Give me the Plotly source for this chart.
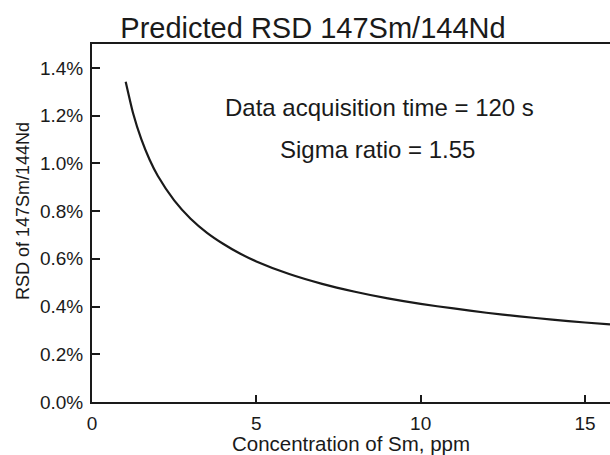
import plotly.graph_objects as go

# Data (Sm concentration in ppm, RSD as fraction)
conc_ppm = [1.025, 1.25, 1.5, 1.75, 2.0, 2.5, 3.0, 3.5, 4.0, 4.5, 5.0, 6.0, 7.0,
            8.0, 9.0, 10.0, 11.0, 12.0, 13.0, 14.0, 15.0, 15.76]
rsd_pct = [1.342, 1.210, 1.101, 1.016, 0.948, 0.845, 0.768, 0.709, 0.662, 0.622,
           0.589, 0.536, 0.495, 0.462, 0.434, 0.411, 0.392, 0.374, 0.359, 0.345,
           0.333, 0.325]
rsd = [v / 100 for v in rsd_pct]

x_ticks = [0, 5, 10, 15]
y_ticks = [0.0, 0.002, 0.004, 0.006, 0.008, 0.010, 0.012, 0.014]

title_text = "Predicted RSD 147Sm/144Nd"
x_title = "Concentration of Sm, ppm"
y_title = "RSD of 147Sm/144Nd"
note_lines = ["Data acquisition time = 120 s", "Sigma ratio = 1.55"]

FONT = "Liberation Sans, Arial, Helvetica, sans-serif"
INK = "#1a1a1a"

fig = go.Figure()
fig.add_trace(go.Scatter(
    x=conc_ppm, y=rsd, mode="lines",
    line=dict(color=INK, width=2.2, shape="spline", smoothing=0.6),
    hoverinfo="skip", showlegend=False,
))

fig.update_layout(
    width=610, height=455,
    margin=dict(l=92, r=0, t=44, b=53, autoexpand=False),
    paper_bgcolor="white", plot_bgcolor="white",
    font=dict(family=FONT, color=INK),
    title=dict(text=title_text, x=313 / 610, xanchor="center",
               y=1 - 28 / 455, yanchor="middle", yref="container",
               font=dict(size=29, family=FONT, color=INK)),
    showlegend=False,
)

fig.update_xaxes(
    range=[0, 15.76], tickvals=x_ticks, ticktext=[str(t) for t in x_ticks],
    ticks="inside", ticklen=7, tickwidth=1.6, tickcolor=INK,
    showline=True, linewidth=2, linecolor=INK, mirror=True,
    showgrid=False, zeroline=False,
    tickfont=dict(size=19, family=FONT, color=INK),
    ticklabelstandoff=3,
    title=dict(text=x_title, standoff=10, font=dict(size=20.5, family=FONT, color=INK)),
    automargin=False,
)
fig.update_yaxes(
    range=[0, 0.015], tickvals=y_ticks, tickformat=".1%",
    ticks="inside", ticklen=8, tickwidth=1.6, tickcolor=INK,
    showline=True, linewidth=2, linecolor=INK, mirror=False,
    showgrid=False, zeroline=False,
    tickfont=dict(size=19, family=FONT, color=INK),
    ticklabelstandoff=3,
    automargin=False,
)

# y-axis title placed as a rotated annotation
fig.add_annotation(x=(23 - 92) / 518, y=(402 - 211) / 358, xref="paper", yref="paper",
                   text=y_title, textangle=-90, showarrow=False,
                   xanchor="center", yanchor="middle",
                   font=dict(size=18, family=FONT, color=INK))

fig.add_annotation(x=8.76, y=0.01232, xref="x", yref="y", text=note_lines[0],
                   showarrow=False, xanchor="center", yanchor="middle",
                   font=dict(size=24, family=FONT, color=INK))
fig.add_annotation(x=8.70, y=0.01056, xref="x", yref="y", text=note_lines[1],
                   showarrow=False, xanchor="center", yanchor="middle",
                   font=dict(size=24, family=FONT, color=INK))

fig.write_html("out.html")
